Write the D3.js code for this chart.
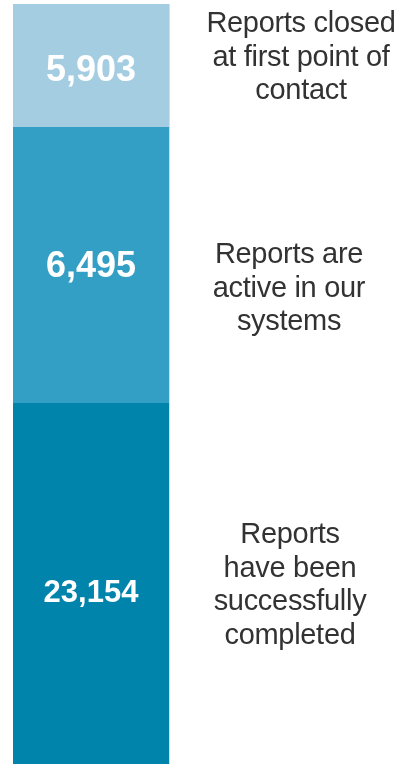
<!DOCTYPE html>
<html>
<head>
<meta charset="utf-8">
<script src="https://cdn.jsdelivr.net/npm/d3@7"></script>
<style>
  html, body { margin: 0; padding: 0; background: #fff; }
  svg { display: block; }
</style>
</head>
<body>
<svg id="chart"></svg>
<script>
// data, top segment first
const categories = ["closed", "active", "completed"];
const values = [5903, 6495, 23154];
const labels = [
    ["Reports closed", "at first point of", "contact"],
    ["Reports are", "active in our", "systems"],
    ["Reports", "have been", "successfully", "completed"]
];

const width = 408, height = 764;
const colors = ["#a4cde2", "#339fc4", "#0084ab"];

const svg = d3.select("#chart")
    .attr("width", width)
    .attr("height", height);

// soft blur so the text looks like the scanned original
const defs = svg.append("defs");
defs.append("filter").attr("id", "soft")
    .append("feGaussianBlur").attr("stdDeviation", 0.75);
defs.append("filter").attr("id", "softer")
    .append("feGaussianBlur").attr("stdDeviation", 0.35);

// stack the segments
let acc = 0;
const segs = values.map((v, i) => {
    const s = { key: categories[i], value: v, y0: acc, y1: acc + v, i: i };
    acc += v;
    return s;
});

// the original bar isn't drawn to scale, so use a piecewise scale on the cumulative totals
const y = d3.scaleLinear()
    .domain([0, segs[0].y1, segs[1].y1, segs[2].y1])
    .range([4, 127, 403, 764]);

const x = d3.scaleBand()
    .domain(["bar", "label"])
    .range([13, 400])
    .paddingInner(0.1);

svg.selectAll("rect.seg")
    .data(segs)
    .enter().append("rect")
    .attr("class", "seg")
    .attr("x", x("bar"))
    .attr("width", 156)
    .attr("y", d => y(d.y0))
    .attr("height", d => y(d.y1) - y(d.y0))
    .attr("fill", (d, i) => colors[i]);

// thin light edge on the right of the bar
svg.append("line")
    .attr("x1", x("bar") + 156.5).attr("x2", x("bar") + 156.5)
    .attr("y1", y(0)).attr("y2", y(acc))
    .attr("stroke", "#bfe6f2")
    .attr("stroke-width", 1);

const fmt = d3.format(",");
const numSize = [36, 36, 31];
const numDy = [15, 12, 18];

svg.selectAll("text.num")
    .data(segs)
    .enter().append("text")
    .attr("class", "num")
    .attr("x", x("bar") + 78)
    .attr("y", d => (y(d.y0) + y(d.y1)) / 2 + numDy[d.i])
    .attr("text-anchor", "middle")
    .attr("fill", "#ffffff")
    .attr("filter", "url(#softer)")
    .style("font-family", "'Liberation Sans', Arial, sans-serif")
    .style("font-weight", "bold")
    .style("font-size", d => numSize[d.i] + "px")
    .text(d => fmt(d.value));

const labelX = [301, 289, 290];
const firstBase = [32, 263, 543];
const lineH = 33.5;

const lab = svg.selectAll("text.lab")
    .data(segs)
    .enter().append("text")
    .attr("class", "lab")
    .attr("text-anchor", "middle")
    .attr("fill", "#333333")
    .attr("filter", "url(#soft)")
    .style("font-family", "'Liberation Sans', Arial, sans-serif")
    .style("font-size", "29px")
    .style("letter-spacing", "-0.3px");

lab.selectAll("tspan")
    .data(d => labels[d.i].map(t => ({ t: t, i: d.i })))
    .enter().append("tspan")
    .attr("x", d => labelX[d.i])
    .attr("y", (d, j) => firstBase[d.i] + j * lineH)
    .text(d => d.t);
</script>
</body>
</html>
